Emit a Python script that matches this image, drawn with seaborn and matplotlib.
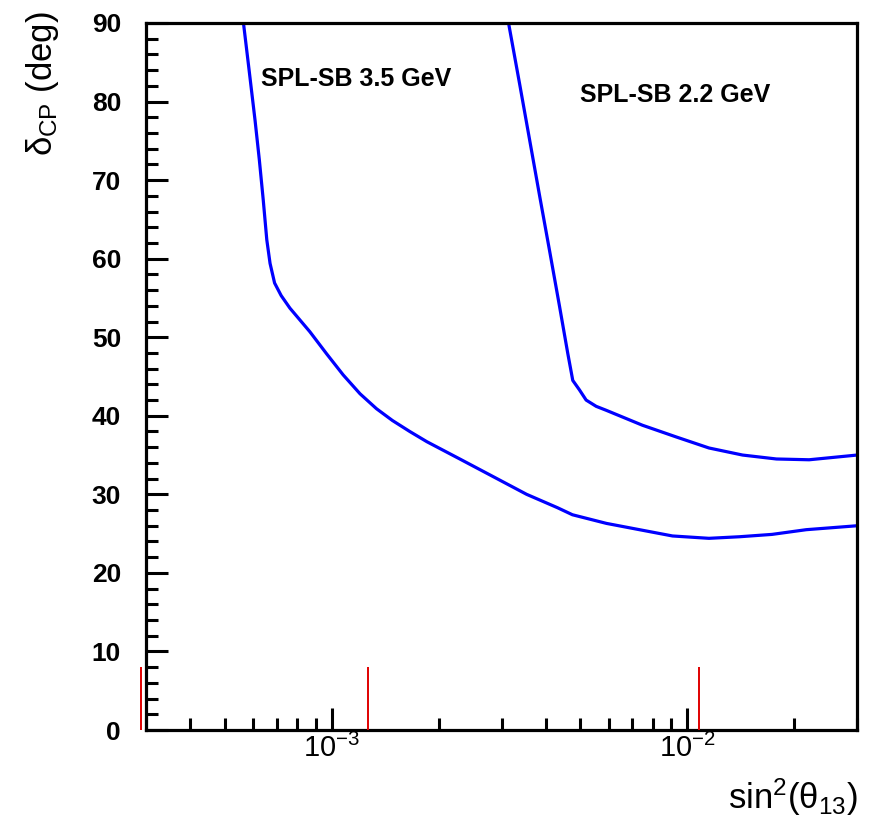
import matplotlib
matplotlib.use("Agg")
import matplotlib.pyplot as plt
import matplotlib.ticker as mticker
import numpy as np
import pandas as pd
import seaborn as sns

# ---- data ----
x_35 = [5.64e-4, 5.85e-4, 6.08e-4, 6.25e-4, 6.41e-4, 6.56e-4, 6.70e-4, 6.90e-4,
        7.20e-4, 7.62e-4, 8.67e-4, 9.66e-4, 1.076e-3, 1.20e-3, 1.335e-3, 1.48e-3,
        1.656e-3, 1.85e-3, 2.29e-3, 2.83e-3, 3.53e-3, 4.31e-3, 4.75e-3, 5.92e-3,
        7.33e-3, 9.08e-3, 1.15e-2, 1.40e-2, 1.73e-2, 2.16e-2, 3.0e-2]
y_35 = [90.0, 84.0, 77.6, 72.6, 67.5, 62.4, 59.4, 56.9,
        55.3, 53.7, 50.7, 47.9, 45.2, 42.8, 40.9, 39.4,
        38.0, 36.7, 34.5, 32.3, 30.0, 28.3, 27.4, 26.3,
        25.5, 24.7, 24.4, 24.6, 24.9, 25.5, 26.0]

x_22 = [3.14e-3, 3.375e-3, 3.60e-3, 3.84e-3, 4.10e-3, 4.37e-3, 4.61e-3, 4.76e-3,
        4.97e-3, 5.19e-3, 5.54e-3, 5.91e-3, 7.47e-3, 9.31e-3, 1.15e-2, 1.43e-2,
        1.78e-2, 2.20e-2, 3.0e-2]
y_22 = [90.0, 82.2, 75.1, 68.0, 60.9, 53.9, 47.9, 44.5,
        43.3, 42.0, 41.2, 40.7, 38.8, 37.3, 35.9, 35.0,
        34.5, 34.4, 35.0]

series_names = ["SPL-SB 3.5 GeV", "SPL-SB 2.2 GeV"]
red_x = [2.9e-4, 1.26e-3, 1.08e-2]
red_top = [8.0, 8.0, 8.0]

x_ticks = [1e-3, 1e-2]
x_ticklabels = [r"$10^{-3}$", r"$10^{-2}$"]
y_ticks = [0, 10, 20, 30, 40, 50, 60, 70, 80, 90]

df = pd.concat([
    pd.DataFrame({"x": x_35, "y": y_35, "s": series_names[0]}),
    pd.DataFrame({"x": x_22, "y": y_22, "s": series_names[1]}),
])

sns.set_theme(style="white")
plt.rcParams["font.family"] = ["Liberation Sans", "DejaVu Sans"]
plt.rcParams["mathtext.fontset"] = "custom"
plt.rcParams["mathtext.rm"] = "Liberation Sans"
plt.rcParams["mathtext.it"] = "Liberation Sans"
plt.rcParams["mathtext.bf"] = "Liberation Sans:bold"
plt.rcParams["text.color"] = "black"
plt.rcParams["xtick.color"] = "black"
plt.rcParams["ytick.color"] = "black"

fig = plt.figure(figsize=(8.72, 8.24), dpi=100)
ax = fig.add_axes([146 / 872, 94 / 824, 711 / 872, 707 / 824])

sns.lineplot(data=df, x="x", y="y", units="s", estimator=None, sort=False,
             color="#0000ff", linewidth=2.3, ax=ax, legend=False)

ax.vlines(red_x, 0, red_top, colors="#e00000", linewidth=1.4, clip_on=False, zorder=5)

ax.set_xscale("log")
ax.set_xlim(3e-4, 3e-2)
ax.set_ylim(0, 90)

ax.xaxis.set_major_locator(mticker.FixedLocator(x_ticks))
ax.xaxis.set_major_formatter(mticker.FixedFormatter(x_ticklabels))
ax.xaxis.set_minor_locator(mticker.LogLocator(base=10, subs=np.arange(2, 10)))
ax.xaxis.set_minor_formatter(mticker.NullFormatter())
ax.yaxis.set_major_locator(mticker.FixedLocator(y_ticks))
ax.yaxis.set_minor_locator(mticker.MultipleLocator(2))

for side in ["left", "right", "top", "bottom"]:
    ax.spines[side].set_linewidth(2.3)
    ax.spines[side].set_color("black")

ax.tick_params(axis="both", which="both", bottom=True, left=True, top=False, right=False)
ax.tick_params(axis="both", which="major", direction="in", length=15.5, width=2.2,
               color="black", labelsize=19, labelcolor="black")
ax.tick_params(axis="both", which="minor", direction="in", length=8.5, width=2.2,
               color="black")
ax.tick_params(axis="y", which="major", pad=18)
ax.tick_params(axis="x", which="major", pad=3, labelsize=21)
for lab in ax.get_yticklabels():
    lab.set_fontweight("bold")

ax.set_xlabel("")
ax.set_ylabel("")
ax.text(1.0015, -0.066, r"sin$^{2}$($\theta_{13}$)", transform=ax.transAxes,
        ha="right", va="top", fontsize=25)
ax.text(-0.146, 1.016, r"$\delta_{CP}$ (deg)", transform=ax.transAxes,
        ha="center", va="top", rotation=90, fontsize=25)

ax.text(6.32e-4, 82.9, series_names[0], ha="left", va="center",
        fontsize=18, fontweight="bold", color="black")
ax.text(5.0e-3, 80.8, series_names[1], ha="left", va="center",
        fontsize=18, fontweight="bold", color="black")

fig.savefig("out.png", dpi=100)
